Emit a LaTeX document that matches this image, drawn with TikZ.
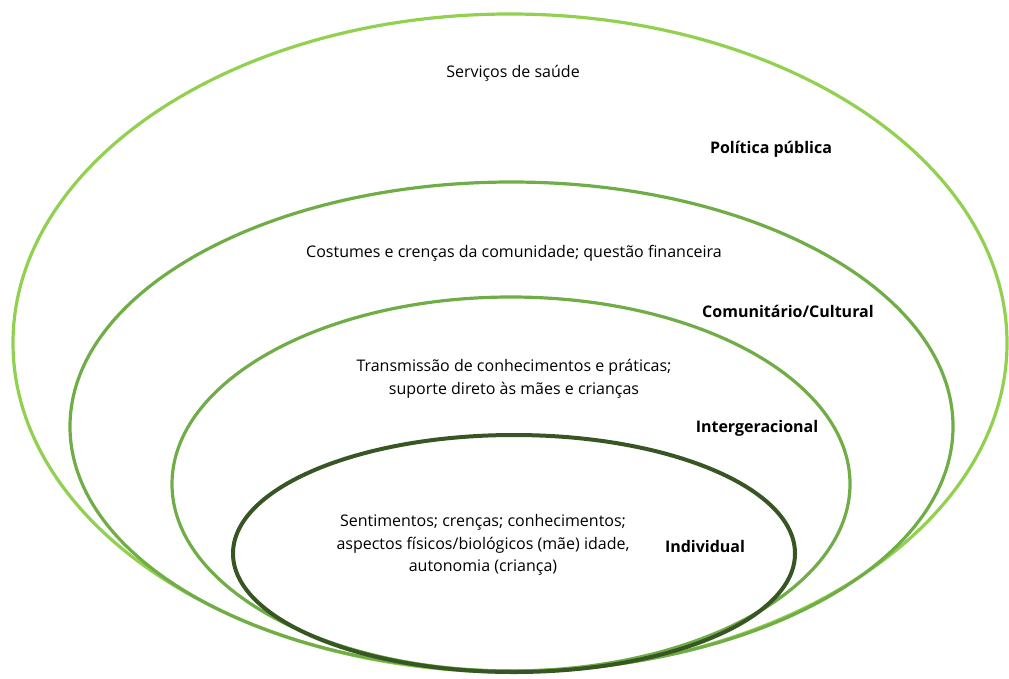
\documentclass[tikz,border=0pt]{standalone}
\usepackage{fontspec}
\setmainfont{Open Sans}
\definecolor{lgreen}{HTML}{92D050}
\definecolor{mgreen}{HTML}{70AD47}
\definecolor{dgreen}{HTML}{375623}
\begin{document}
\begin{tikzpicture}[x=0.75pt,y=-0.75pt,
  ring/.style={line width=2.4pt},
  lbl/.style={font=\fontsize{12}{16.9}\selectfont,align=center,inner sep=0pt},
  blbl/.style={font=\fontsize{12}{16.9}\selectfont\bfseries,inner sep=0pt}]
\path[use as bounding box] (0,0) rectangle (1009,678);
\draw[ring,lgreen] (510,343) ellipse [x radius=497, y radius=329];
\draw[ring,mgreen] (511.5,426.5) ellipse [x radius=441.5, y radius=244.5];
\draw[ring,mgreen] (511,484) ellipse [x radius=339, y radius=187];
\draw[line width=3pt,dgreen] (514,553.5) ellipse [x radius=281, y radius=118.5];
\node[lbl] (s) at (513,73.5) {Serviços de saúde};
\node[blbl] (pp) at (771,149) {Política pública};
\node[lbl] (c) at (514,253.5) {Costumes e crenças da comunidade; questão financeira};
\node[blbl] (cc) at (788,311) {Comunitário/Cultural};
\node[lbl] (t) at (514,379) {Transmissão de conhecimentos e práticas;\\suporte direto às mães e crianças};
\node[blbl] (ig) at (757,428.5) {Intergeracional};
\node[lbl] (se) at (483,545) {Sentimentos; crenças; conhecimentos;\\aspectos físicos/biológicos (mãe) idade,\\autonomia (criança)};
\node[blbl] (ind) at (705,546) {Individual};
\end{tikzpicture}
\end{document}
